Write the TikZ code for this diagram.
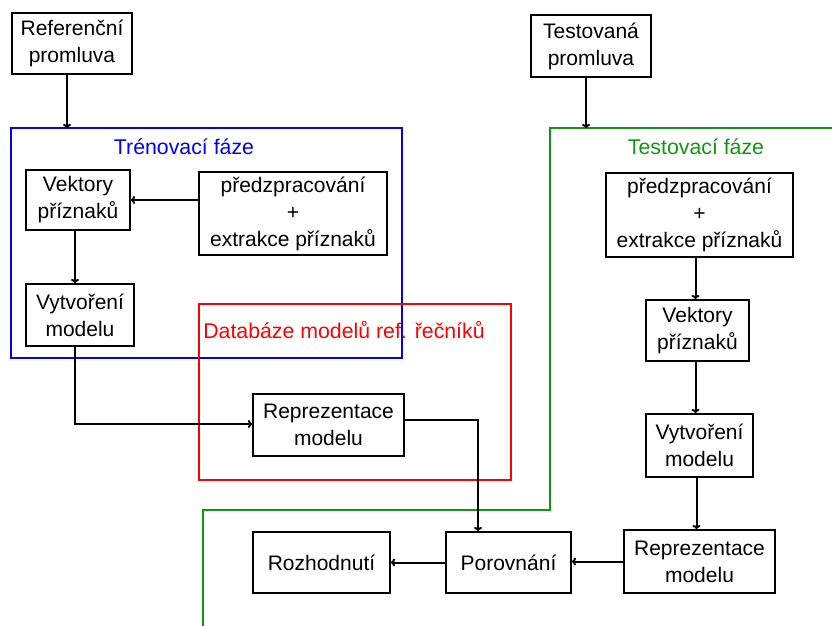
\documentclass[tikz,border=0pt]{standalone}
\usepackage{fontspec}
\setmainfont{Liberation Sans}
\usepackage{tikz}
\usetikzlibrary{arrows.meta}
\definecolor{framegreen}{HTML}{119611}

\tikzset{
  blok/.style={draw=black, line width=2pt, align=center, inner sep=0pt,
    font=\fontsize{21}{27}\selectfont},
  sipka/.style={line width=2pt, -{To[length=4pt,width=8pt]}},
  ramec/.style={line width=2pt},
}

\begin{document}
\begin{tikzpicture}[x=1pt, y=-1pt]
    \useasboundingbox (0,0) rectangle (832,625);

    % Phase frames
    \draw[ramec, blue] (11,128) rectangle (402,358);
    \node[blue, font=\fontsize{21.3}{24}\selectfont] (trenLabel) at (184,147) {Trénovací fáze};
    \draw[ramec, red] (199,304) rectangle (511,480);
    \node[red, font=\fontsize{21.3}{24}\selectfont] (dbLabel) at (344,330) {Databáze modelů ref. řečníků};
    \draw[ramec, framegreen] (203,627) -- (203,510) -- (550,510) -- (550,128) -- (834,128);
    \node[framegreen, font=\fontsize{21.3}{24}\selectfont] (testLabel) at (696,147) {Testovací fáze};
    \coordinate (trenTop) at (67,128);
    \coordinate (testTop) at (586,128);

    % Training side
    \node[blok, minimum width=120, minimum height=61] (ref) at (72,43.5) {Referenční\\promluva};
    \node[blok, minimum width=104, minimum height=60] (vekL) at (78,200) {Vektory\\příznaků};
    \node[blok, minimum width=188, minimum height=83] (predL) at (293,213.5) {předzpracování\\+\\extrakce příznaků};
    \node[blok, minimum width=108, minimum height=62] (vytL) at (80,315) {Vytvoření\\modelu};
    \node[blok, minimum width=151, minimum height=62] (repM) at (328.5,425) {Reprezentace\\modelu};

    % Testing side
    \node[blok, minimum width=120, minimum height=62] (test) at (591,46) {Testovaná\\promluva};
    \node[blok, minimum width=187, minimum height=84] (predR) at (699.5,215) {předzpracování\\+\\extrakce příznaků};
    \node[blok, minimum width=103, minimum height=61] (vekR) at (697.5,330.5) {Vektory\\příznaků};
    \node[blok, minimum width=107, minimum height=63] (vytR) at (699.5,445.5) {Vytvoření\\modelu};
    \node[blok, minimum width=151, minimum height=63] (repR) at (699.5,561.5) {Reprezentace\\modelu};
    \node[blok, minimum width=125, minimum height=61] (por) at (508.5,562.5) {Porovnání};
    \node[blok, minimum width=137, minimum height=61] (roz) at (321.5,562.5) {Rozhodnutí};

    % Connectors
    \draw[sipka] (ref.south -| trenTop) -- (trenTop);
    \draw[sipka] (predL.west |- vekL.east) -- (vekL.east);
    \draw[sipka] ([xshift=-3pt]vekL.south) -- ([xshift=-5pt]vytL.north);
    \draw[sipka] ([xshift=-5pt]vytL.south) |- ([yshift=1pt]repM.west);
    \draw[sipka] ([yshift=5pt]repM.east) -| ([xshift=-30.5pt]por.north);
    \draw[sipka] (test.south -| testTop) -- (testTop);
    \draw[sipka] ([xshift=-4pt]predR.south) -- ([xshift=-2pt]vekR.north);
    \draw[sipka] ([xshift=-2pt]vekR.south) -- ([xshift=-4pt]vytR.north);
    \draw[sipka] ([xshift=-3pt]vytR.south) -- ([xshift=-3pt]repR.north);
    \draw[sipka] (repR.west) -- (repR.west -| por.east);
    \draw[sipka] (por.west) -- (roz.east);
\end{tikzpicture}
\end{document}
